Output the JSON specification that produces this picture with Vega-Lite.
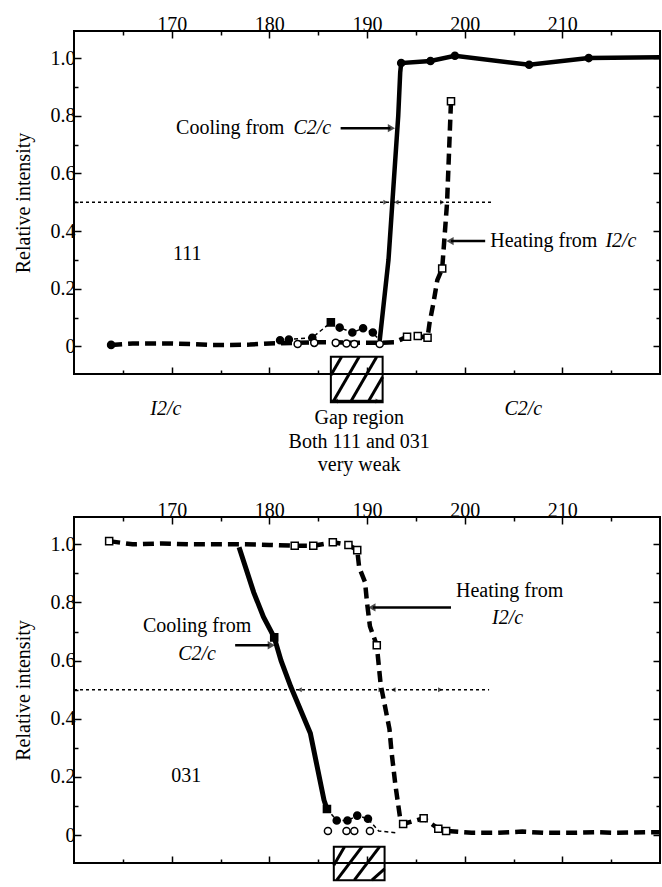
{
  "$schema": "https://vega.github.io/schema/vega-lite/v6.json",
  "padding": {"left": 12, "top": 13, "right": 0, "bottom": 0},
  "background": "white",
  "bounds": "flush",
  "spacing": 143,
  "resolve": {"scale": {"shape": "independent", "fill": "independent"}},
  "config": {
    "view": {"stroke": "black", "strokeWidth": 2},
    "font": "Liberation Serif",
    "axis": {"labelFont": "Liberation Serif", "titleFont": "Liberation Serif", "labelFontSize": 20, "titleFontSize": 20, "titleFontWeight": "normal", "labelColor": "black", "titleColor": "black", "tickColor": "black", "tickWidth": 1.5, "grid": false, "domain": false},
    "text": {"font": "Liberation Serif", "fontSize": 20, "color": "black"}
  },
  "datasets": {
    "top_heat": [
      {"t":163.8,"v":0.005},{"t":166,"v":0.01},{"t":168,"v":0.01},{"t":170,"v":0.01},{"t":172,"v":0.008},{"t":174,"v":0.005},{"t":176,"v":0.005},{"t":178,"v":0.006},{"t":180,"v":0.01},{"t":182.9,"v":0.012},{"t":184.6,"v":0.014},{"t":186.8,"v":0.014},{"t":188.7,"v":0.012},{"t":191.3,"v":0.012},{"t":192.8,"v":0.014},{"t":194.1,"v":0.033},{"t":195.2,"v":0.036},{"t":196.2,"v":0.03},{"t":196.4,"v":0.08},{"t":196.8,"v":0.15},{"t":197.2,"v":0.23},{"t":197.7,"v":0.27},{"t":198.2,"v":0.5},{"t":198.6,"v":0.85}
    ],
    "top_cool": [
      {"t":191.3,"v":0.02},{"t":192.2,"v":0.3},{"t":192.6,"v":0.5},{"t":193.2,"v":0.8},{"t":193.4,"v":0.95},{"t":193.5,"v":0.983},{"t":196.5,"v":0.99},{"t":199.0,"v":1.008},{"t":206.6,"v":0.977},{"t":212.7,"v":1.0},{"t":220.0,"v":1.003}
    ],
    "top_cool_low": [
      {"t":181.1,"v":0.021},{"t":182.0,"v":0.024},{"t":184.4,"v":0.03},{"t":186.3,"v":0.083},{"t":187.2,"v":0.065},{"t":188.5,"v":0.048},{"t":189.6,"v":0.063},{"t":190.6,"v":0.048},{"t":191.3,"v":0.02}
    ],
    "top_pts": [
      {"t":163.8,"v":0.005,"kind":"filled circle"},
      {"t":181.1,"v":0.021,"kind":"filled circle"},{"t":182.0,"v":0.024,"kind":"filled circle"},{"t":184.4,"v":0.03,"kind":"filled circle"},{"t":187.2,"v":0.065,"kind":"filled circle"},{"t":188.5,"v":0.048,"kind":"filled circle"},{"t":189.6,"v":0.063,"kind":"filled circle"},{"t":190.6,"v":0.048,"kind":"filled circle"},
      {"t":193.5,"v":0.983,"kind":"filled circle"},{"t":196.5,"v":0.99,"kind":"filled circle"},{"t":199.0,"v":1.008,"kind":"filled circle"},{"t":206.6,"v":0.977,"kind":"filled circle"},{"t":212.7,"v":1.0,"kind":"filled circle"},
      {"t":186.3,"v":0.083,"kind":"filled square"},
      {"t":182.9,"v":0.008,"kind":"open circle"},{"t":184.6,"v":0.012,"kind":"open circle"},{"t":186.8,"v":0.012,"kind":"open circle"},{"t":187.9,"v":0.01,"kind":"open circle"},{"t":188.7,"v":0.008,"kind":"open circle"},{"t":191.3,"v":0.008,"kind":"open circle"},
      {"t":194.1,"v":0.033,"kind":"open square"},{"t":195.2,"v":0.036,"kind":"open square"},{"t":196.2,"v":0.03,"kind":"open square"},{"t":197.7,"v":0.27,"kind":"open square"},{"t":198.6,"v":0.85,"kind":"open square"}
    ],
    "top_arrows": [
      {"t":187.3,"v":0.757,"t2":192.4,"v2":0.757},
      {"t":202.1,"v":0.365,"t2":198.6,"v2":0.365},
      {"t":186.3,"v":-0.19,"t2":191.6,"v2":-0.19}
    ],
    "top_heads": [
      {"t":192.5,"v":0.757,"dir":"right","kind":"big"},
      {"t":198.5,"v":0.365,"dir":"left","kind":"big"},
      {"t":191.9,"v":0.5,"dir":"right","kind":"small"},
      {"t":193.0,"v":0.5,"dir":"left","kind":"small"},
      {"t":197.7,"v":0.5,"dir":"right","kind":"small"},
      {"t":186.8,"v":-0.19,"dir":"left","kind":"small"},
      {"t":191.1,"v":-0.19,"dir":"right","kind":"small"}
    ],
    "top_box": [{"t":186.3,"t2":191.6,"v":-0.036,"v2":-0.194}],
    "top_hatch": [
      {"t":186.3,"v":-0.10,"t2":187.4,"v2":-0.036},
      {"t":186.5,"v":-0.194,"t2":189.2,"v2":-0.036},
      {"t":188.3,"v":-0.194,"t2":191.0,"v2":-0.036},
      {"t":190.1,"v":-0.194,"t2":191.6,"v2":-0.106}
    ],
    "top_text": [
      {"t":176.0,"v":0.757,"label":"Cooling from","style":"roman"},
      {"t":184.4,"v":0.757,"label":"C2/c","style":"italic"},
      {"t":208.1,"v":0.365,"label":"Heating from","style":"roman"},
      {"t":216.0,"v":0.365,"label":"I2/c","style":"italic"},
      {"t":171.6,"v":0.32,"label":"111","style":"roman"},
      {"t":169.4,"v":-0.219,"label":"I2/c","style":"italic"},
      {"t":206.0,"v":-0.219,"label":"C2/c","style":"italic"},
      {"t":189.2,"v":-0.25,"label":"Gap region","style":"roman"},
      {"t":189.2,"v":-0.333,"label":"Both 111 and 031","style":"roman"},
      {"t":189.2,"v":-0.413,"label":"very weak","style":"roman"}
    ],
    "bot_heat": [
      {"t":163.6,"v":1.011},{"t":166,"v":1.0},{"t":169,"v":1.003},{"t":172,"v":1.0},{"t":175,"v":1.0},{"t":177.5,"v":1.0},{"t":180,"v":0.998},{"t":182.6,"v":0.995},{"t":184.5,"v":0.995},{"t":186.5,"v":1.007},{"t":188.1,"v":0.998},{"t":189.0,"v":0.98},{"t":189.2,"v":0.92},{"t":189.8,"v":0.87},{"t":190.0,"v":0.8},{"t":190.3,"v":0.718},{"t":191.0,"v":0.653},{"t":191.4,"v":0.518},{"t":192.3,"v":0.365},{"t":192.5,"v":0.29},{"t":192.9,"v":0.174},{"t":193.4,"v":0.056},{"t":193.7,"v":0.038},{"t":195.8,"v":0.058},{"t":197.3,"v":0.022},{"t":198.1,"v":0.014},{"t":200.7,"v":0.008},{"t":203.3,"v":0.008},{"t":205.9,"v":0.012},{"t":208.1,"v":0.008},{"t":211.0,"v":0.008},{"t":213.3,"v":0.01},{"t":215.5,"v":0.008},{"t":218.5,"v":0.01},{"t":220.0,"v":0.01}
    ],
    "bot_cool": [
      {"t":176.9,"v":0.99},{"t":178.4,"v":0.835},{"t":179.4,"v":0.75},{"t":180.5,"v":0.68},{"t":181.2,"v":0.6},{"t":182.2,"v":0.51},{"t":183.2,"v":0.43},{"t":184.2,"v":0.35},{"t":185.6,"v":0.12},{"t":185.9,"v":0.09}
    ],
    "bot_cool_low": [
      {"t":185.9,"v":0.09},{"t":186.9,"v":0.05},{"t":188.0,"v":0.05},{"t":189.0,"v":0.067},{"t":190.1,"v":0.056},{"t":191.2,"v":0.014},{"t":192.9,"v":0.008}
    ],
    "bot_pts": [
      {"t":163.6,"v":1.011,"kind":"open square"},{"t":182.6,"v":0.995,"kind":"open square"},{"t":184.5,"v":0.995,"kind":"open square"},{"t":186.5,"v":1.007,"kind":"open square"},{"t":188.1,"v":0.998,"kind":"open square"},{"t":189.0,"v":0.98,"kind":"open square"},{"t":191.0,"v":0.653,"kind":"open square"},{"t":193.7,"v":0.038,"kind":"open square"},{"t":195.8,"v":0.058,"kind":"open square"},{"t":197.3,"v":0.022,"kind":"open square"},{"t":198.1,"v":0.014,"kind":"open square"},
      {"t":180.5,"v":0.68,"kind":"filled square"},{"t":185.9,"v":0.09,"kind":"filled square"},
      {"t":186.9,"v":0.05,"kind":"filled circle"},{"t":188.0,"v":0.05,"kind":"filled circle"},{"t":189.0,"v":0.067,"kind":"filled circle"},{"t":190.1,"v":0.056,"kind":"filled circle"},
      {"t":186.0,"v":0.014,"kind":"open circle"},{"t":187.9,"v":0.014,"kind":"open circle"},{"t":188.7,"v":0.014,"kind":"open circle"},{"t":190.3,"v":0.014,"kind":"open circle"}
    ],
    "bot_arrows": [
      {"t":198.6,"v":0.783,"t2":190.6,"v2":0.783},
      {"t":176.5,"v":0.653,"t2":180.0,"v2":0.653}
    ],
    "bot_heads": [
      {"t":190.5,"v":0.783,"dir":"left","kind":"big"},
      {"t":180.2,"v":0.653,"dir":"right","kind":"big"},
      {"t":183.1,"v":0.5,"dir":"left","kind":"small"},
      {"t":191.4,"v":0.5,"dir":"right","kind":"small"},
      {"t":192.7,"v":0.5,"dir":"left","kind":"small"},
      {"t":197.5,"v":0.5,"dir":"right","kind":"small"}
    ],
    "bot_box": [{"t":186.6,"t2":191.8,"v":-0.04,"v2":-0.155}],
    "bot_hatch": [
      {"t":186.6,"v":-0.104,"t2":187.7,"v2":-0.04},
      {"t":186.9,"v":-0.155,"t2":189.5,"v2":-0.04},
      {"t":188.7,"v":-0.155,"t2":191.3,"v2":-0.04},
      {"t":190.5,"v":-0.155,"t2":191.8,"v2":-0.116}
    ],
    "bot_text": [
      {"t":204.6,"v":0.84,"label":"Heating from","style":"roman"},
      {"t":204.4,"v":0.745,"label":"I2/c","style":"italic"},
      {"t":172.6,"v":0.718,"label":"Cooling from","style":"roman"},
      {"t":172.6,"v":0.624,"label":"C2/c","style":"italic"},
      {"t":171.5,"v":0.204,"label":"031","style":"roman"}
    ]
  },
  "vconcat": [
    {
      "width": 586,
      "height": 343,
      "resolve": {"axis": {"x": "independent", "y": "independent"}, "scale": {"shape": "independent", "fill": "independent"}},
      "layer": [
        {
          "data": {"name": "top_heat"},
          "mark": {"type": "line", "color": "black", "strokeWidth": 4.5, "strokeDash": [11, 6]},
          "encoding": {
            "x": {"field": "t", "type": "quantitative", "scale": {"domain": [160, 220], "nice": false, "zero": false},
                  "axis": {"orient": "top", "title": null, "values": [165,170,175,180,185,190,195,200,205,210,215], "labelExpr": "datum.value % 10 === 0 ? datum.label : ''", "labelPadding": 4, "tickSize": {"condition": {"test": "datum.value % 10 === 0", "value": -7}, "value": -4}}},
            "y": {"field": "v", "type": "quantitative", "scale": {"domain": [-0.096, 1.094], "nice": false, "zero": false},
                  "axis": {"orient": "left", "title": "Relative intensity", "titlePadding": 17, "values": [0,0.1,0.2,0.3,0.4,0.5,0.6,0.7,0.8,0.9,1.0], "labelExpr": "round(datum.value*10) % 2 === 0 ? (datum.value === 0 ? '0' : format(datum.value, '.1f')) : ''", "labelPadding": 6, "tickSize": {"condition": {"test": "round(datum.value*10) % 2 === 0", "value": -7}, "value": -4}}}
          }
        },
        {
          "data": {"name": "top_cool"},
          "mark": {"type": "line", "color": "black", "strokeWidth": 4.5},
          "encoding": {
            "x": {"field": "t", "type": "quantitative", "axis": {"orient": "bottom", "title": null, "labels": false, "values": [165,170,175,180,185,190,195,200,205,210,215], "tickSize": {"condition": {"test": "datum.value % 10 === 0", "value": -7}, "value": -4}}},
            "y": {"field": "v", "type": "quantitative", "axis": {"orient": "right", "title": null, "labels": false, "values": [0,0.1,0.2,0.3,0.4,0.5,0.6,0.7,0.8,0.9,1.0], "tickSize": {"condition": {"test": "round(datum.value*10) % 2 === 0", "value": -7}, "value": -4}}}
          }
        },
        {
          "data": {"name": "top_cool_low"},
          "mark": {"type": "line", "color": "black", "strokeWidth": 1.5, "strokeDash": [4, 3]},
          "encoding": {"x": {"field": "t", "type": "quantitative", "axis": null}, "y": {"field": "v", "type": "quantitative", "axis": null}}
        },
        {
          "data": {"values": [{"t": 160, "t2": 202.7, "v": 0.5}]},
          "mark": {"type": "rule", "color": "black", "strokeWidth": 1.5, "strokeDash": [3, 3]},
          "encoding": {"x": {"field": "t", "type": "quantitative", "axis": null}, "x2": {"field": "t2"}, "y": {"field": "v", "type": "quantitative", "axis": null}}
        },
        {
          "data": {"name": "top_arrows"},
          "mark": {"type": "rule", "color": "black", "strokeWidth": 2.5},
          "encoding": {"x": {"field": "t", "type": "quantitative", "axis": null}, "x2": {"field": "t2"}, "y": {"field": "v", "type": "quantitative", "axis": null}, "y2": {"field": "v2"}}
        },
        {
          "data": {"name": "top_heads"},
          "transform": [{"filter": "datum.kind === 'big'"}],
          "mark": {"type": "point", "filled": true, "color": "black", "size": 70},
          "encoding": {"x": {"field": "t", "type": "quantitative", "axis": null}, "y": {"field": "v", "type": "quantitative", "axis": null},
                       "shape": {"field": "dir", "type": "nominal", "scale": {"domain": ["right", "left"], "range": ["triangle-right", "triangle-left"]}, "legend": null}}
        },
        {
          "data": {"name": "top_heads"},
          "transform": [{"filter": "datum.kind === 'small'"}],
          "mark": {"type": "point", "filled": true, "color": "black", "size": 25},
          "encoding": {"x": {"field": "t", "type": "quantitative", "axis": null}, "y": {"field": "v", "type": "quantitative", "axis": null},
                       "shape": {"field": "dir", "type": "nominal", "scale": {"domain": ["right", "left"], "range": ["triangle-right", "triangle-left"]}, "legend": null}}
        },
        {
          "data": {"name": "top_box"},
          "mark": {"type": "rect", "fillOpacity": 0, "stroke": "black", "strokeWidth": 2},
          "encoding": {"x": {"field": "t", "type": "quantitative", "axis": null}, "x2": {"field": "t2"}, "y": {"field": "v", "type": "quantitative", "axis": null}, "y2": {"field": "v2"}}
        },
        {
          "data": {"name": "top_hatch"},
          "mark": {"type": "rule", "color": "black", "strokeWidth": 3},
          "encoding": {"x": {"field": "t", "type": "quantitative", "axis": null}, "x2": {"field": "t2"}, "y": {"field": "v", "type": "quantitative", "axis": null}, "y2": {"field": "v2"}}
        },
        {
          "data": {"name": "top_pts"},
          "mark": {"type": "point", "filled": true, "stroke": "black", "strokeWidth": 1.5, "size": 50, "opacity": 1},
          "encoding": {"x": {"field": "t", "type": "quantitative", "axis": null}, "y": {"field": "v", "type": "quantitative", "axis": null},
                       "shape": {"field": "kind", "type": "nominal", "scale": {"domain": ["filled circle", "open circle", "filled square", "open square"], "range": ["circle", "circle", "square", "square"]}, "legend": null},
                       "fill": {"field": "kind", "type": "nominal", "scale": {"domain": ["filled circle", "open circle", "filled square", "open square"], "range": ["black", "white", "black", "white"]}, "legend": null}}
        },
        {
          "data": {"name": "top_text"},
          "transform": [{"filter": "datum.style === 'roman'"}],
          "mark": {"type": "text", "font": "Liberation Serif", "fontSize": 20, "align": "center", "baseline": "middle", "color": "black"},
          "encoding": {"x": {"field": "t", "type": "quantitative", "axis": null}, "y": {"field": "v", "type": "quantitative", "axis": null}, "text": {"field": "label"}}
        },
        {
          "data": {"name": "top_text"},
          "transform": [{"filter": "datum.style === 'italic'"}],
          "mark": {"type": "text", "font": "Liberation Serif", "fontSize": 20, "fontStyle": "italic", "align": "center", "baseline": "middle", "color": "black"},
          "encoding": {"x": {"field": "t", "type": "quantitative", "axis": null}, "y": {"field": "v", "type": "quantitative", "axis": null}, "text": {"field": "label"}}
        }
      ]
    },
    {
      "width": 586,
      "height": 346,
      "resolve": {"axis": {"x": "independent", "y": "independent"}, "scale": {"shape": "independent", "fill": "independent"}},
      "layer": [
        {
          "data": {"name": "bot_heat"},
          "mark": {"type": "line", "color": "black", "strokeWidth": 4.5, "strokeDash": [11, 6]},
          "encoding": {
            "x": {"field": "t", "type": "quantitative", "scale": {"domain": [160, 220], "nice": false, "zero": false},
                  "axis": {"orient": "top", "title": null, "values": [165,170,175,180,185,190,195,200,205,210,215], "labelExpr": "datum.value % 10 === 0 ? datum.label : ''", "labelPadding": 4, "tickSize": {"condition": {"test": "datum.value % 10 === 0", "value": -7}, "value": -4}}},
            "y": {"field": "v", "type": "quantitative", "scale": {"domain": [-0.096, 1.094], "nice": false, "zero": false},
                  "axis": {"orient": "left", "title": "Relative intensity", "titlePadding": 17, "values": [0,0.1,0.2,0.3,0.4,0.5,0.6,0.7,0.8,0.9,1.0], "labelExpr": "round(datum.value*10) % 2 === 0 ? (datum.value === 0 ? '0' : format(datum.value, '.1f')) : ''", "labelPadding": 6, "tickSize": {"condition": {"test": "round(datum.value*10) % 2 === 0", "value": -7}, "value": -4}}}
          }
        },
        {
          "data": {"name": "bot_cool"},
          "mark": {"type": "line", "color": "black", "strokeWidth": 5},
          "encoding": {
            "x": {"field": "t", "type": "quantitative", "axis": {"orient": "bottom", "title": null, "labels": false, "values": [165,170,175,180,185,190,195,200,205,210,215], "tickSize": {"condition": {"test": "datum.value % 10 === 0", "value": -7}, "value": -4}}},
            "y": {"field": "v", "type": "quantitative", "axis": {"orient": "right", "title": null, "labels": false, "values": [0,0.1,0.2,0.3,0.4,0.5,0.6,0.7,0.8,0.9,1.0], "tickSize": {"condition": {"test": "round(datum.value*10) % 2 === 0", "value": -7}, "value": -4}}}
          }
        },
        {
          "data": {"name": "bot_cool_low"},
          "mark": {"type": "line", "color": "black", "strokeWidth": 1.5, "strokeDash": [4, 3]},
          "encoding": {"x": {"field": "t", "type": "quantitative", "axis": null}, "y": {"field": "v", "type": "quantitative", "axis": null}}
        },
        {
          "data": {"values": [{"t": 160, "t2": 202.5, "v": 0.5}]},
          "mark": {"type": "rule", "color": "black", "strokeWidth": 1.5, "strokeDash": [3, 3]},
          "encoding": {"x": {"field": "t", "type": "quantitative", "axis": null}, "x2": {"field": "t2"}, "y": {"field": "v", "type": "quantitative", "axis": null}}
        },
        {
          "data": {"name": "bot_arrows"},
          "mark": {"type": "rule", "color": "black", "strokeWidth": 2.5},
          "encoding": {"x": {"field": "t", "type": "quantitative", "axis": null}, "x2": {"field": "t2"}, "y": {"field": "v", "type": "quantitative", "axis": null}, "y2": {"field": "v2"}}
        },
        {
          "data": {"name": "bot_heads"},
          "transform": [{"filter": "datum.kind === 'big'"}],
          "mark": {"type": "point", "filled": true, "color": "black", "size": 70},
          "encoding": {"x": {"field": "t", "type": "quantitative", "axis": null}, "y": {"field": "v", "type": "quantitative", "axis": null},
                       "shape": {"field": "dir", "type": "nominal", "scale": {"domain": ["right", "left"], "range": ["triangle-right", "triangle-left"]}, "legend": null}}
        },
        {
          "data": {"name": "bot_heads"},
          "transform": [{"filter": "datum.kind === 'small'"}],
          "mark": {"type": "point", "filled": true, "color": "black", "size": 25},
          "encoding": {"x": {"field": "t", "type": "quantitative", "axis": null}, "y": {"field": "v", "type": "quantitative", "axis": null},
                       "shape": {"field": "dir", "type": "nominal", "scale": {"domain": ["right", "left"], "range": ["triangle-right", "triangle-left"]}, "legend": null}}
        },
        {
          "data": {"name": "bot_box"},
          "mark": {"type": "rect", "fillOpacity": 0, "stroke": "black", "strokeWidth": 2},
          "encoding": {"x": {"field": "t", "type": "quantitative", "axis": null}, "x2": {"field": "t2"}, "y": {"field": "v", "type": "quantitative", "axis": null}, "y2": {"field": "v2"}}
        },
        {
          "data": {"name": "bot_hatch"},
          "mark": {"type": "rule", "color": "black", "strokeWidth": 3},
          "encoding": {"x": {"field": "t", "type": "quantitative", "axis": null}, "x2": {"field": "t2"}, "y": {"field": "v", "type": "quantitative", "axis": null}, "y2": {"field": "v2"}}
        },
        {
          "data": {"name": "bot_pts"},
          "mark": {"type": "point", "filled": true, "stroke": "black", "strokeWidth": 1.5, "size": 50, "opacity": 1},
          "encoding": {"x": {"field": "t", "type": "quantitative", "axis": null}, "y": {"field": "v", "type": "quantitative", "axis": null},
                       "shape": {"field": "kind", "type": "nominal", "scale": {"domain": ["filled circle", "open circle", "filled square", "open square"], "range": ["circle", "circle", "square", "square"]}, "legend": null},
                       "fill": {"field": "kind", "type": "nominal", "scale": {"domain": ["filled circle", "open circle", "filled square", "open square"], "range": ["black", "white", "black", "white"]}, "legend": null}}
        },
        {
          "data": {"name": "bot_text"},
          "transform": [{"filter": "datum.style === 'roman'"}],
          "mark": {"type": "text", "font": "Liberation Serif", "fontSize": 20, "align": "center", "baseline": "middle", "color": "black"},
          "encoding": {"x": {"field": "t", "type": "quantitative", "axis": null}, "y": {"field": "v", "type": "quantitative", "axis": null}, "text": {"field": "label"}}
        },
        {
          "data": {"name": "bot_text"},
          "transform": [{"filter": "datum.style === 'italic'"}],
          "mark": {"type": "text", "font": "Liberation Serif", "fontSize": 20, "fontStyle": "italic", "align": "center", "baseline": "middle", "color": "black"},
          "encoding": {"x": {"field": "t", "type": "quantitative", "axis": null}, "y": {"field": "v", "type": "quantitative", "axis": null}, "text": {"field": "label"}}
        }
      ]
    }
  ]
}
